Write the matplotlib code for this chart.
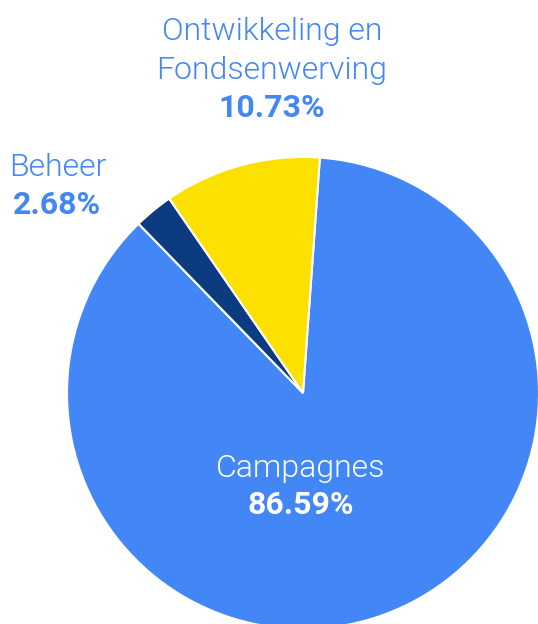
import matplotlib
matplotlib.use("Agg")
import matplotlib.pyplot as plt

categories = ["Campagnes", "Beheer", "Ontwikkeling en\nFondsenwerving"]
values = [86.59, 2.68, 10.73]
pct_labels = ["86.59%", "2.68%", "10.73%"]
colors = ["#4287F5", "#0C3B80", "#FCE000"]

W, H = 538, 624
DPI = 100
fig = plt.figure(figsize=(W / DPI, H / DPI), dpi=DPI)
fig.patch.set_facecolor("white")
ax = fig.add_axes([0, 0, 1, 1])

cx, cy, r = 303, 393, 236  # pixel coords from top-left
ax.pie(values, colors=colors, startangle=85.9, counterclock=False,
       radius=r, center=(0, 0),
       wedgeprops=dict(edgecolor="white", linewidth=1.5))
ax.set_xlim(-cx, W - cx)
ax.set_ylim(-(H - cy), cy)
ax.set_aspect("equal")
ax.axis("off")

pt = 72 / DPI
fs = 32 * pt
blue = "#4287F5"

def put(x, y, s, color, weight):
    fig.text(x / W, 1 - y / H, s, ha="center", va="baseline",
             fontsize=fs, color=color, family="Roboto", fontweight=weight)

# Ontwikkeling en Fondsenwerving
put(272, 40, "Ontwikkeling en", blue, 300)
put(272, 79, "Fondsenwerving", blue, 300)
put(272, 117, pct_labels[2], blue, "bold")
# Beheer
put(58, 176, categories[1], blue, 300)
put(57, 214, pct_labels[1], blue, "bold")
# Campagnes
put(301, 477, categories[0], "white", 300)
put(301, 514, pct_labels[0], "white", "bold")

fig.savefig("out.png", dpi=DPI, facecolor="white")
